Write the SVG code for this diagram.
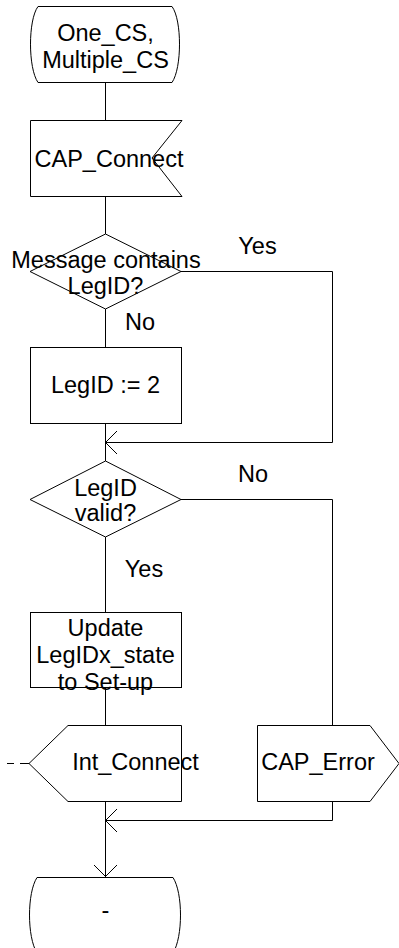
<svg xmlns="http://www.w3.org/2000/svg" width="399" height="948" viewBox="0 0 399 948">
<style>
.s{fill:#fff;stroke:#000;stroke-width:1}
.l{fill:none;stroke:#000;stroke-width:1}
text{font-family:"Liberation Sans",Arial,sans-serif;font-size:23.5px;fill:#000;text-anchor:middle}
</style>
<rect width="399" height="948" fill="#fff"/>
<g id="connectors">
<path class="l" d="M105.5,82 V120 M105.5,196 V234 M105.5,309 V347 M105.5,423 V461 M105.5,537 V612 M105.5,687 V725 M105.5,801 V877"/>
<path class="l" d="M181,271.5 H332.5 V442.5 H105.5 M117,431 L105.5,442.5 L117,454"/>
<path class="l" d="M181,499.5 H332.5 V725"/>
<path class="l" d="M332.5,801 V820.5 H105.5 M117,809 L105.5,820.5 L117,832"/>
<path class="l" d="M94,865 L105.5,876.5 L117,865"/>
<path class="l" d="M7,763.5 H14 M20,763.5 H29"/>
<text x="257.5" y="254">Yes</text>
<text x="140" y="330">No</text>
<text x="253" y="482">No</text>
<text x="144" y="577">Yes</text>
</g>
<g id="start">
<path class="s" d="M38,6.5 H172 C182,20 182,68 172,82.5 H38 C28,68 28,20 38,6.5 Z"/>
<text x="105.5" y="41">One_CS,</text>
<text x="105.5" y="68">Multiple_CS</text>
</g>
<g id="cap_connect">
<path class="s" d="M30.5,120.5 H182 L152,158 L182,196.5 H30.5 Z"/>
<text x="109" y="167">CAP_Connect</text>
</g>
<g id="decision1">
<path class="s" d="M105.5,234 L181,271.5 L105.5,309 L30,271.5 Z"/>
<text x="106" y="268">Message contains</text>
<text x="105.5" y="294">LegID?</text>
</g>
<g id="assign">
<rect class="s" x="30.5" y="347.5" width="151" height="76"/>
<text x="105.5" y="393">LegID := 2</text>
</g>
<g id="decision2">
<path class="s" d="M105.5,461 L181,499.5 L105.5,537 L30,499.5 Z"/>
<text x="105.5" y="496">LegID</text>
<text x="105.5" y="521">valid?</text>
</g>
<g id="update">
<rect class="s" x="30.5" y="612.5" width="151" height="75"/>
<text x="105.5" y="636">Update</text>
<text x="105.5" y="663">LegIDx_state</text>
<text x="105.5" y="690">to Set-up</text>
</g>
<g id="int_connect">
<path class="s" d="M68,725.5 H181.5 V801.5 H68 L29,763.5 Z"/>
<text x="135.5" y="770">Int_Connect</text>
</g>
<g id="cap_error">
<path class="s" d="M257.5,725.5 H370 L399,763.5 L370,801.5 H257.5 Z"/>
<text x="318" y="770">CAP_Error</text>
</g>
<g id="end">
<path class="s" d="M37,877.5 H173 C183,893 183,937 173,953 H37 C27,937 27,893 37,877.5 Z"/>
<text x="105.5" y="918">-</text>
</g>
</svg>
